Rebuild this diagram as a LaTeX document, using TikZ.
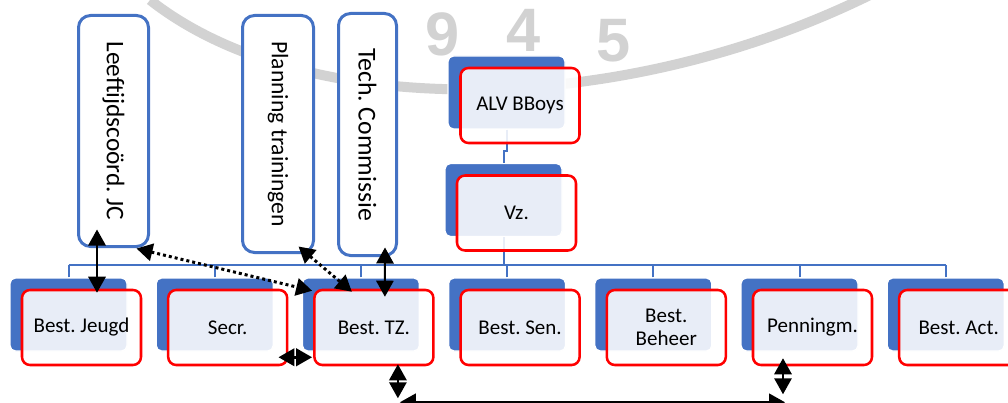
\documentclass[tikz,border=0pt]{standalone}
\usepackage{graphicx}
\usepackage{fontspec}
\setmainfont{Carlito}
\newfontfamily\markfont{Liberation Sans}
\usetikzlibrary{arrows.meta, calc}
\definecolor{orgblue}{RGB}{68, 114, 196}
\definecolor{markgray}{RGB}{210, 210, 210}
\frenchspacing

\begin{document}
\begin{tikzpicture}[x=0.75pt, y=-0.75pt,
  back/.style={fill=orgblue, draw=white, line width=1pt, rounded corners=4pt,
    minimum width=87.75pt, minimum height=54.75pt, inner sep=0pt},
  front/.style={draw=red, line width=1.9pt, rounded corners=6pt, fill=white,
    fill opacity=0.88, text opacity=1, minimum width=89.25pt, minimum height=56.25pt,
    inner sep=0pt, align=center, font=\fontsize{15.75}{17.5}\selectfont},
  side/.style={draw=orgblue, line width=2.25pt, rounded corners=9pt, fill=white, inner sep=0pt},
  tree/.style={draw=orgblue, line width=1.5pt},
  link/.style={{Triangle[length=12pt,width=13pt]}-{Triangle[length=12pt,width=13pt]}, line width=1.5pt},
  dots/.style={link, line width=2.25pt, dash pattern=on 2.25pt off 2.25pt}]

\useasboundingbox (0,0) rectangle (1008,403);

% watermark
\draw[markgray, line width=7.5pt] (150,0) .. controls (305,122) and (620,118) .. (870,-5);
\foreach \d/\px/\py in {9/443/56, 4/524/52, 5/614/62}
  \node[markgray, anchor=base, inner sep=0pt, font=\markfont\bfseries\fontsize{46}{46}\selectfont] (wm\d) at (\px,\py) {\d};

% committees
\node[side, minimum width=52.5pt, minimum height=173.25pt] (lft) at (113.5,131)
  {\rotatebox{-90}{\fontsize{19}{19}\selectfont Leeftijdscoörd. JC}};
\node[side, minimum width=53.25pt, minimum height=177.75pt] (plan) at (278,134)
  {\rotatebox{-90}{\fontsize{17.7}{18}\selectfont Planning trainingen}};
\node[side, minimum width=43.5pt, minimum height=181.5pt] (tc) at (367.5,134.5)
  {\rotatebox{-90}{\fontsize{19.3}{19}\selectfont Tech. Commissie}};

% blue backs
\node[back] (alv-b) at (506.5,92.5) {};
\node[back] (vz-b) at (503.5,200) {};
\coordinate (bus) at (503.5,265);
\foreach \n [count=\i from 0] in {jeugd, secr, tz, sen, beheer, penn, act} {
  \node[back] (\n-b) at (68.5+146.2*\i, 314.5) {};
  \draw[tree] (\n-b.north) -- (\n-b.north |- bus);
}

\draw[tree] (alv-b.south) -- ++(0,21) -| (vz-b.north);
\draw[tree] (vz-b.south) -- (bus);
\draw[tree] (jeugd-b.north |- bus) -- (act-b.north |- bus);

% red fronts
\node[front] (alv) at ($(alv-b)+(13.5,13)$) {ALV BBoys};
\node[front] (vz) at ($(vz-b)+(13,13)$) {Vz.};
\foreach \n/\t in {jeugd/Best. Jeugd, secr/Secr., tz/Best. TZ., sen/Best. Sen.,
    beheer/{Best.\\Beheer}, penn/Penningm., act/Best. Act.}
  \node[front] (\n) at ($(\n-b)+(13,13)$) {\t};

% links
\draw[link] ($(lft.south)+(-16.5,-18.5)$) -- ($(jeugd.north)+(15.5,4)$);
\draw[dots] ($(lft.south east)+(-13.5,0.5)$) -- ($(tz.north west)+(-1,2)$);
\draw[dots] ($(plan.south east)+(-16.5,-7.5)$) -- ($(tz.north)+(-22,3)$);
\draw[link] ($(tc.south)+(17.5,-9.5)$) -- ($(tz.north)+(11,8)$);
\draw[dots] ($(secr.south east)+(-10,-9)$) -- ($(tz.south west)+(-1,-9)$);
\draw[link] ($(tz.south)+(24,-2)$) -- ($(tz.south)+(24,32)$);
\draw[link] ($(penn.south)+(-29.5,-8)$) -- ($(penn.south)+(-29.5,28)$);
\draw[link] ($(tz.south)+(26,36)$) -- ($(penn.south)+(-27.5,36)$);

\end{tikzpicture}
\end{document}
